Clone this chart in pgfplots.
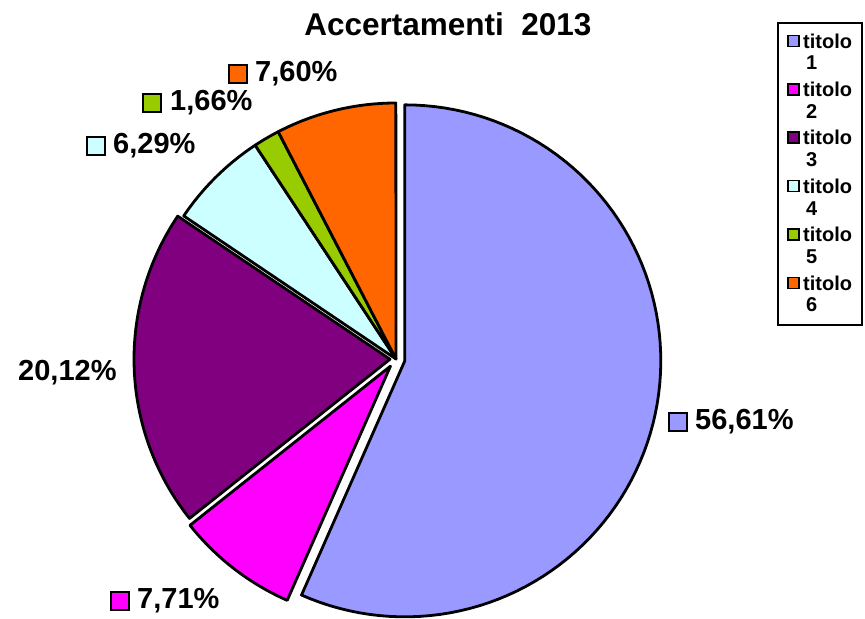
\documentclass[border=0pt]{standalone}
\usepackage{pgfplots}
\pgfplotsset{compat=1.18}
\usepackage{pgfplotstable}
\usepackage{fontspec}
\setmainfont{Liberation Sans}
\definecolor{c1}{HTML}{9999FF}
\definecolor{c2}{HTML}{FF00FF}
\definecolor{c3}{HTML}{800080}
\definecolor{c4}{HTML}{CCFFFF}
\definecolor{c5}{HTML}{99CC00}
\definecolor{c6}{HTML}{FF6600}
\pgfplotstableread{
id value dist
1 56.61 9
2 7.71 9
3 20.12 6
4 6.29 0
5 1.66 0
6 7.60 0
}\piedata
\def\cx{396}\def\cy{258}\def\R{256}
\newcommand\slice[4]{%
  \pgfmathsetmacro\midang{(#1+#2)/2}%
  \pgfmathsetmacro\ox{\cx+#3*cos(\midang)}%
  \pgfmathsetmacro\oy{\cy+#3*sin(\midang)}%
  \edef\doslice{\noexpand\addplot[fill=#4, draw=black, line width=2.8pt, line join=round,
    samples at={-1,0,1,...,90}, variable=\noexpand\t]
    ({\ox + (\noexpand\t>=0)*\R*cos(#1+(#2-#1)*\noexpand\t/90)},
     {\oy + (\noexpand\t>=0)*\R*sin(#1+(#2-#1)*\noexpand\t/90)}) -- cycle;}%
  \doslice
}
\newcommand\labfont{\fontsize{29}{34}\selectfont\bfseries}
\newcommand\legfont{\fontsize{20}{23}\selectfont\bfseries}
\newcommand\legentry[4]{%
  \draw[line width=1.6pt, fill=#1] (axis cs:788,#3-5.5) rectangle (axis cs:799,#3+5.5);
  \node[font=\legfont, anchor=west, inner sep=0] at (axis cs:803,#3) {titolo};
  \node[font=\legfont, anchor=west, inner sep=0] at (axis cs:806,#4) {#2};
}
\begin{document}
\begin{tikzpicture}
\pgfplotstablegetelem{0}{value}\of\piedata\let\vA\pgfplotsretval
\pgfplotstablegetelem{1}{value}\of\piedata\let\vB\pgfplotsretval
\pgfplotstablegetelem{2}{value}\of\piedata\let\vC\pgfplotsretval
\pgfplotstablegetelem{3}{value}\of\piedata\let\vD\pgfplotsretval
\pgfplotstablegetelem{4}{value}\of\piedata\let\vE\pgfplotsretval
\pgfplotstablegetelem{5}{value}\of\piedata\let\vF\pgfplotsretval
\pgfplotstablegetelem{0}{dist}\of\piedata\let\dA\pgfplotsretval
\pgfplotstablegetelem{1}{dist}\of\piedata\let\dB\pgfplotsretval
\pgfplotstablegetelem{2}{dist}\of\piedata\let\dC\pgfplotsretval
\pgfplotstablegetelem{3}{dist}\of\piedata\let\dD\pgfplotsretval
\pgfplotstablegetelem{4}{dist}\of\piedata\let\dE\pgfplotsretval
\pgfplotstablegetelem{5}{dist}\of\piedata\let\dF\pgfplotsretval
\pgfmathsetmacro\aA{90}
\pgfmathsetmacro\aB{\aA-3.6*\vA}
\pgfmathsetmacro\aC{\aB-3.6*\vB}
\pgfmathsetmacro\aD{\aC-3.6*\vC}
\pgfmathsetmacro\aE{\aD-3.6*\vD}
\pgfmathsetmacro\aF{\aE-3.6*\vE}
\pgfmathsetmacro\aG{\aF-3.6*\vF}
\begin{axis}[scale only axis, width=865pt, height=617pt,
  xmin=0, xmax=865, ymin=0, ymax=617, hide axis, clip=false]
\path (axis cs:0,0) rectangle (axis cs:865,617);
\slice{\aA}{\aB}{\dA}{c1}
\slice{\aB}{\aC}{\dB}{c2}
\slice{\aC}{\aD}{\dC}{c3}
\slice{\aD}{\aE}{\dD}{c4}
\slice{\aE}{\aF}{\dE}{c5}
\slice{\aF}{\aG}{\dF}{c6}
% title
\node[font=\fontsize{31.5}{36}\selectfont\bfseries, inner sep=0] at (axis cs:448,593) {Accertamenti\ \ 2013};
% data labels
\node[font=\labfont, anchor=west, inner sep=0] at (axis cs:695,195) {56,61\%};
\node[font=\labfont, anchor=west, inner sep=0] at (axis cs:137,16) {7,71\%};
\node[font=\labfont, anchor=west, inner sep=0] at (axis cs:18,244) {20,12\%};
\node[font=\labfont, anchor=west, inner sep=0] at (axis cs:113,471) {6,29\%};
\node[font=\labfont, anchor=west, inner sep=0] at (axis cs:170,514) {1,66\%};
\node[font=\labfont, anchor=west, inner sep=0] at (axis cs:255,543) {7,60\%};
\draw[line width=2.2pt, fill=c1] (axis cs:669,186) rectangle (axis cs:687,204);
\draw[line width=2.2pt, fill=c2] (axis cs:111,7) rectangle (axis cs:129,25);
\draw[line width=2.2pt, fill=c4] (axis cs:87,462) rectangle (axis cs:105,480);
\draw[line width=2.2pt, fill=c5] (axis cs:143,505) rectangle (axis cs:161,523);
\draw[line width=2.2pt, fill=c6] (axis cs:229,534) rectangle (axis cs:247,552);
% legend
\draw[line width=1.6pt, fill=white] (axis cs:778,292) rectangle (axis cs:862,594);
\legentry{c1}{1}{576}{554}
\legentry{c2}{2}{527.6}{505.6}
\legentry{c3}{3}{479.2}{457.2}
\legentry{c4}{4}{430.8}{408.8}
\legentry{c5}{5}{382.4}{360.4}
\legentry{c6}{6}{334}{312}
\end{axis}
\end{tikzpicture}
\end{document}
